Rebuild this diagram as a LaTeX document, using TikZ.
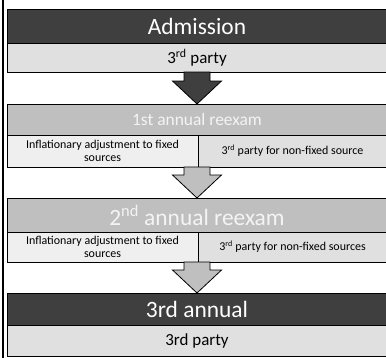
\documentclass[tikz,border=0pt]{standalone}
\usepackage{fontspec}
\setmainfont{Carlito}
\usetikzlibrary{calc}
\definecolor{hdark}{HTML}{3F3F3F}
\definecolor{hmid}{HTML}{BFBFBF}
\definecolor{clight}{HTML}{E0E0E0}
\definecolor{clighter}{HTML}{EFEFEF}
\definecolor{htext}{HTML}{F4F4F4}
\tikzset{
  cell/.style={draw=black, line width=0.8bp, inner sep=0pt, outer sep=0pt,
    anchor=north west, align=center},
  bigfont/.style={font=\fontsize{23.5}{28}\selectfont},
  medfont/.style={font=\fontsize{17}{20}\selectfont},
  smallfont/.style={font=\fontsize{12}{13}\selectfont},
  darkhead/.style={cell, fill=hdark, text=white, minimum width=380bp},
  midhead/.style={cell, fill=hmid, text=htext, minimum width=380bp},
  lightrow/.style={cell, fill=clight, minimum width=380bp},
  leftcell/.style={cell, fill=clighter, minimum width=191bp, smallfont},
  rightcell/.style={cell, fill=clight, minimum width=189bp, smallfont},
  darkarrow/.style={draw=black, line width=0.8bp, fill=hdark, line join=miter},
  grayarrow/.style={draw=black, line width=0.8bp, fill=hmid, line join=miter},
}
\newcommand{\flowarrow}[3]{%
  \draw[#1] ($(#3.north|-#2.south)+(-13,0)$) -- ($(#3.north)+(-13,-23)$)
    -- ($(#3.north)+(-24.5,-23)$) -- (#3.north) -- ($(#3.north)+(24.5,-23)$)
    -- ($(#3.north)+(13,-23)$) -- ($(#3.north|-#2.south)+(13,0)$) -- cycle;}
\begin{document}
\begin{tikzpicture}[x=1bp,y=-1bp]
\useasboundingbox (0,0) rectangle (386,358);
\draw[line width=2bp] (3,0) -- (3,358);

\node[darkhead, bigfont, minimum height=34bp] (adm) at (7,9) {Admission};
\node[lightrow, medfont, minimum height=29bp] (p1) at (7,43) {3\textsuperscript{rd} party};

\node[midhead, font=\fontsize{17.5}{20}\selectfont, minimum height=31bp] (r1) at (7,104) {1st annual reexam};
\node[leftcell, minimum height=32bp] (s1a) at (7,135) {Inflationary adjustment to fixed\\sources};
\node[rightcell, minimum height=32bp] (s1b) at (198,135) {3\textsuperscript{rd} party for non-fixed source};

\node[midhead, bigfont, minimum height=34bp] (r2) at (7,198) {2\textsuperscript{nd} annual reexam};
\node[leftcell, minimum height=30bp] (s2a) at (7,232) {Inflationary adjustment to fixed\\sources};
\node[rightcell, minimum height=30bp] (s2b) at (198,232) {3\textsuperscript{rd} party for non-fixed sources};

\node[darkhead, bigfont, minimum height=32bp] (r3) at (7,293) {3rd annual};
\node[lightrow, medfont, minimum height=31bp] (p3) at (7,325) {3rd party};

\flowarrow{darkarrow}{p1}{r1}
\flowarrow{grayarrow}{s1a}{r2}
\flowarrow{grayarrow}{s2a}{r3}
\end{tikzpicture}
\end{document}
